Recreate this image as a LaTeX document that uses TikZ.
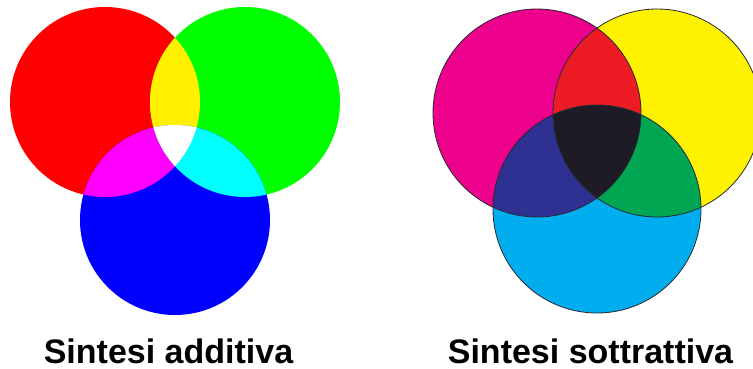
\documentclass[tikz,border=0pt]{standalone}
\usepackage{fontspec}
\setmainfont{Liberation Sans}
\definecolor{aR}{RGB}{255,0,0}
\definecolor{aG}{RGB}{0,255,0}
\definecolor{aB}{RGB}{0,0,255}
\definecolor{aY}{RGB}{255,240,0}
\definecolor{aM}{RGB}{255,0,255}
\definecolor{aC}{RGB}{0,255,255}
\definecolor{sM}{RGB}{236,0,140}
\definecolor{sY}{RGB}{255,242,0}
\definecolor{sC}{RGB}{0,174,239}
\definecolor{sR}{RGB}{237,28,36}
\definecolor{sG}{RGB}{0,166,81}
\definecolor{sB}{RGB}{46,49,146}
\definecolor{sK}{RGB}{30,27,38}
\definecolor{outl}{RGB}{40,40,50}
\tikzset{caption/.style={font=\bfseries\fontsize{34}{40}\selectfont, anchor=base, inner sep=0pt},
  ring/.style={draw=outl, line width=0.8pt}}
\begin{document}
\begin{tikzpicture}[x=1pt,y=-1pt]
\useasboundingbox (0,0) rectangle (753,369);
% additive
\coordinate (R) at (105,102);
\coordinate (G) at (245,102);
\coordinate (B) at (175,220);
\def\ra{95pt}
\fill[aR] (R) circle (\ra);
\fill[aG] (G) circle (\ra);
\fill[aB] (B) circle (\ra);
\begin{scope}\clip (R) circle (\ra); \fill[aY] (G) circle (\ra); \end{scope}
\begin{scope}\clip (R) circle (\ra); \fill[aM] (B) circle (\ra); \end{scope}
\begin{scope}\clip (G) circle (\ra); \fill[aC] (B) circle (\ra); \end{scope}
\begin{scope}\clip (R) circle (\ra); \clip (G) circle (\ra); \fill[white] (B) circle (\ra); \end{scope}
% subtractive
\coordinate (M) at (537,113);
\coordinate (Y) at (657,113);
\coordinate (C) at (597,209);
\def\rs{104pt}
\begin{scope}
\clip (0,0) rectangle (753,369);
\fill[sM] (M) circle (\rs);
\fill[sY] (Y) circle (\rs);
\fill[sC] (C) circle (\rs);
\begin{scope}\clip (M) circle (\rs); \fill[sR] (Y) circle (\rs); \end{scope}
\begin{scope}\clip (M) circle (\rs); \fill[sB] (C) circle (\rs); \end{scope}
\begin{scope}\clip (Y) circle (\rs); \fill[sG] (C) circle (\rs); \end{scope}
\begin{scope}\clip (M) circle (\rs); \clip (Y) circle (\rs); \fill[sK] (C) circle (\rs); \end{scope}
\draw[ring] (M) circle (\rs);
\draw[ring] (Y) circle (\rs);
\draw[ring] (C) circle (\rs);
\end{scope}
% captions
\node[caption] (capA) at (168.5,363) {Sintesi additiva};
\node[caption] (capS) at (590.5,363) {Sintesi sottrattiva};
\end{tikzpicture}
\end{document}
